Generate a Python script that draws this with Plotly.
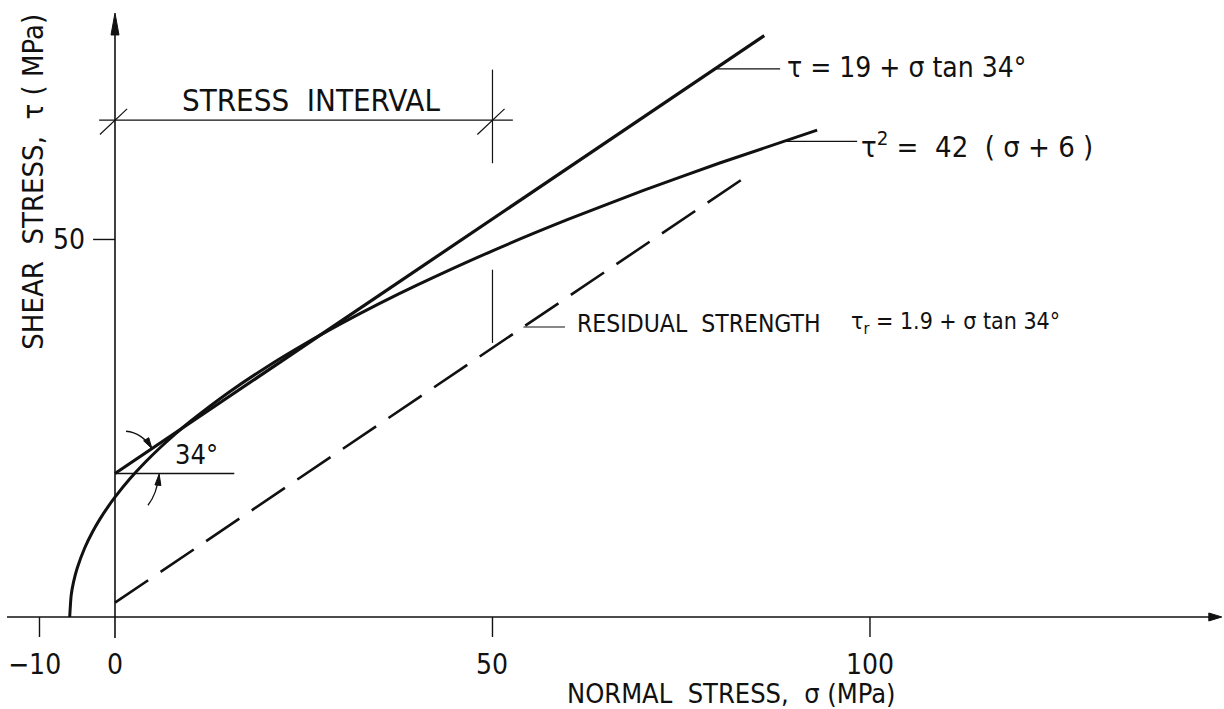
import math
import plotly.graph_objects as go

# Peak strength envelope: tau = 19 + sigma * tan 34deg (straight line, two end points)
SIGMA_PEAK = [0.0, 86.0]
TAU_PEAK = [19.0, 77.0]

# Curved envelope: tau^2 = 42 (sigma + 6)
SIGMA_CURVE = [-6.0, -5.8, -5.5, -5.0, -4.0, -3.0, -2.0, -1.0, 0.0, 2.0, 4.0, 6.0,
               8.0, 10.0, 15.0, 20.0, 25.0, 30.0, 35.0, 40.0, 50.0, 60.0, 70.0, 80.0, 93.0]
TAU_CURVE = [0.0, 2.90, 4.58, 6.48, 9.17, 11.22, 12.96, 14.49, 15.87, 18.33, 20.49, 22.45,
             24.25, 25.92, 29.70, 33.05, 36.08, 38.88, 41.50, 43.95, 48.50, 52.65, 56.50, 60.10, 64.48]

# Residual strength: tau_r = 1.9 + sigma * tan 34deg
SIGMA_RESID = [0.0, 84.0]
TAU_RESID = [1.9, 58.6]

# Axis ticks
X_TICKS = [-10, 0, 50, 100]
X_TICK_LABELS = ["\u221210", "0", "50", "100"]
Y_TICKS = [50]
Y_TICK_LABELS = ["50"]

# Stress interval bounds on the normal-stress axis
INTERVAL = [0, 50]

FONT = "DejaVu Sans Condensed, Liberation Sans Narrow, DejaVu Sans, sans-serif"
INK = "#111111"

# Equal scaling on both axes (same pixels per MPa)
X_RANGE = [-15.23, 146.89]
Y_RANGE = [-12.19, 81.72]
PX = 7.55  # pixels per MPa

fig = go.Figure()

fig.add_trace(go.Scatter(x=SIGMA_PEAK, y=TAU_PEAK, mode="lines",
                         line=dict(color=INK, width=3.2), hoverinfo="skip"))
fig.add_trace(go.Scatter(x=SIGMA_CURVE, y=TAU_CURVE, mode="lines",
                         line=dict(color=INK, width=3.0, shape="spline", smoothing=0.6),
                         hoverinfo="skip"))
fig.add_trace(go.Scatter(x=SIGMA_RESID, y=TAU_RESID, mode="lines",
                         line=dict(color=INK, width=2.6, dash="40px,15px"), hoverinfo="skip"))

shapes = []


def seg(x0, y0, x1, y1, w=1.3):
    shapes.append(dict(type="line", xref="x", yref="y", x0=x0, y0=y0, x1=x1, y1=y1,
                       line=dict(color=INK, width=w)))


def head(tx, ty, dx, dy, length=10, width=6):
    """Filled arrow head with its tip at (tx, ty), pointing along (dx, dy)."""
    n = math.hypot(dx, dy)
    ux, uy = dx / n, dy / n
    L, W = length / PX, width / PX / 2
    bx, by = tx - ux * L, ty - uy * L
    c1 = (bx - uy * W, by + ux * W)
    c2 = (bx + uy * W, by - ux * W)
    shapes.append(dict(type="path", xref="x", yref="y",
                       path=f"M {tx},{ty} L {c1[0]},{c1[1]} L {c2[0]},{c2[1]} Z",
                       fillcolor=INK, line=dict(color=INK, width=1)))


def curve(p0, c, p1, w=1.3):
    shapes.append(dict(type="path", xref="x", yref="y",
                       path=f"M {p0[0]},{p0[1]} Q {c[0]},{c[1]} {p1[0]},{p1[1]}",
                       line=dict(color=INK, width=w)))
    head(p1[0], p1[1], p1[0] - c[0], p1[1] - c[1], length=11, width=6)


# Axes with arrow heads
seg(-14.3, 0, 145.2, 0, w=1.6)
head(146.6, 0, 1, 0, length=13, width=8)
seg(0, -2.8, 0, 77.6, w=1.6)
head(0, 80.0, 0, 1, length=22, width=8)

# Ticks
for t in X_TICKS:
    if t != 0:
        seg(t, 0, t, -2.65, w=1.4)
for t in Y_TICKS:
    seg(-2.9, t, 0, t, w=1.4)

# 34 degree construction
seg(0, 19, 15.8, 19, w=1.3)
curve((1.46, 24.6), (3.6, 24.4), (4.9, 22.3))
curve((4.37, 14.8), (5.56, 16.3), (5.85, 18.9))

# Stress interval dimension line
tau_int = 65.8
seg(-2.1, tau_int, 52.7, tau_int, w=1.2)
for s in INTERVAL:
    seg(s - 2.0, tau_int - 1.9, s + 1.6, tau_int + 1.5, w=1.2)
seg(INTERVAL[1], 72.5, INTERVAL[1], 60.1, w=1.2)
seg(INTERVAL[1], 46.0, INTERVAL[1], 36.3, w=1.2)

# Leader lines to the equations
seg(79.5, 72.6, 88.1, 72.6, w=1.1)
seg(88.5, 63.0, 98.3, 63.0, w=1.1)
seg(54.1, 38.4, 59.6, 38.4, w=1.1)

annotations = []


def label(text, x, y, size, xanchor="left", yanchor="middle", angle=0, xshift=0):
    annotations.append(dict(text=text, x=x, y=y, xref="x", yref="y", showarrow=False,
                            xanchor=xanchor, yanchor=yanchor, textangle=angle, xshift=xshift,
                            font=dict(family=FONT, size=size, color=INK)))


for t, s in zip(X_TICKS, X_TICK_LABELS):
    label(s, t, -6.3, 28, xanchor="center", xshift=-5 if t < 0 else 0)
for t, s in zip(Y_TICKS, Y_TICK_LABELS):
    label(s, -3.7, t, 28, xanchor="right")

label("NORMAL&nbsp;&nbsp;STRESS,&nbsp;&nbsp;\u03c3&nbsp;(MPa)", 81.6, -10.2, 27, xanchor="center")
label("SHEAR&nbsp;&nbsp;STRESS,&nbsp;&nbsp;\u03c4&nbsp;(&nbsp;MPa)", -10.9, 57.6, 29,
      xanchor="center", angle=-90)

label("STRESS&nbsp;&nbsp;INTERVAL", 8.6, 68.5, 31)
label("34\u00b0", 7.7, 21.5, 27)
label("\u03c4 = 19 + \u03c3 tan 34\u00b0", 88.7, 72.8, 28)
label("\u03c4<sup>2</sup>&nbsp;=&nbsp;&nbsp;42&nbsp;&nbsp;(&nbsp;\u03c3&nbsp;+&nbsp;6&nbsp;)", 98.5, 62.5, 29)
label("RESIDUAL&nbsp;&nbsp;STRENGTH", 60.9, 38.9, 24.5)
label("\u03c4<sub>r</sub> = 1.9 + \u03c3 tan 34\u00b0", 97.2, 38.9, 23)

fig.update_layout(
    width=1224, height=709, autosize=False,
    margin=dict(l=0, r=0, t=0, b=0),
    paper_bgcolor="white", plot_bgcolor="white",
    showlegend=False,
    xaxis=dict(range=X_RANGE, visible=False, fixedrange=True),
    yaxis=dict(range=Y_RANGE, visible=False, fixedrange=True),
    shapes=shapes,
    annotations=annotations,
)

fig.write_html("out.html")
